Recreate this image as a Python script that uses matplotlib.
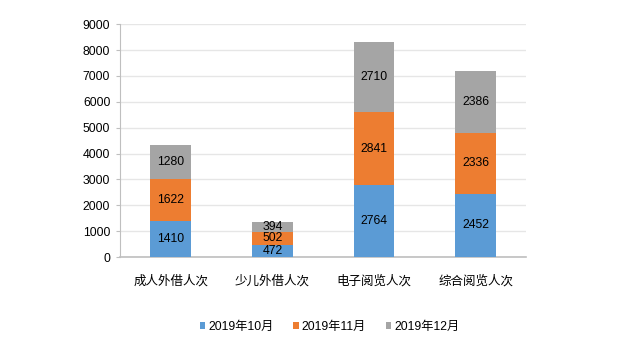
import numpy as np
import matplotlib
matplotlib.use("Agg")
import matplotlib.pyplot as plt

plt.rcParams['font.family'] = ['Liberation Sans', 'Noto Sans CJK SC', 'DejaVu Sans']

categories = ['成人外借人次', '少儿外借人次', '电子阅览人次', '综合阅览人次']
series_names = ['2019年10月', '2019年11月', '2019年12月']
oct_vals = [1410, 472, 2764, 2452]
nov_vals = [1622, 502, 2841, 2336]
dec_vals = [1280, 394, 2710, 2386]
colors = ['#5B9BD5', '#ED7D31', '#A5A5A5']

fig = plt.figure(figsize=(6.4, 3.55), dpi=100)
ax = fig.add_axes([0.1875, 0.276, 0.635, 0.656])

x = np.arange(len(categories))
bottom = np.zeros(len(categories))
for name, vals, c in zip(series_names, [oct_vals, nov_vals, dec_vals], colors):
    vals = np.array(vals)
    ax.bar(x, vals, 0.4, bottom=bottom, color=c, label=name, zorder=3)
    for xi, b, v in zip(x, bottom, vals):
        ax.text(xi, b + v / 2, str(v), ha='center', va='center',
                fontsize=8.8, color='black', zorder=4)
    bottom = bottom + vals

ax.set_xlim(-0.5, 3.5)
ax.set_ylim(0, 9000)
ax.set_yticks(range(0, 9001, 1000))
ax.tick_params(axis='y', labelsize=8.8, length=3, color='#bfbfbf', pad=4)
ax.set_xticks(x)
ax.set_xticklabels(categories, fontsize=9)
ax.tick_params(axis='x', length=0, pad=13)
ax.grid(axis='y', color='#e6e6e6', linewidth=1, zorder=0)
for s in ['top', 'right']:
    ax.spines[s].set_visible(False)
ax.spines['left'].set_color('#bfbfbf')
ax.spines['bottom'].set_color('#bfbfbf')
ax.spines['bottom'].set_linewidth(1.2)

leg = fig.legend(loc='center', bbox_to_anchor=(0.515, 0.08), ncol=3, frameon=False,
                 fontsize=8.8, handlelength=0.45, handleheight=0.45, handletextpad=0.25,
                 columnspacing=1.6)

fig.savefig('out.png', dpi=100)
